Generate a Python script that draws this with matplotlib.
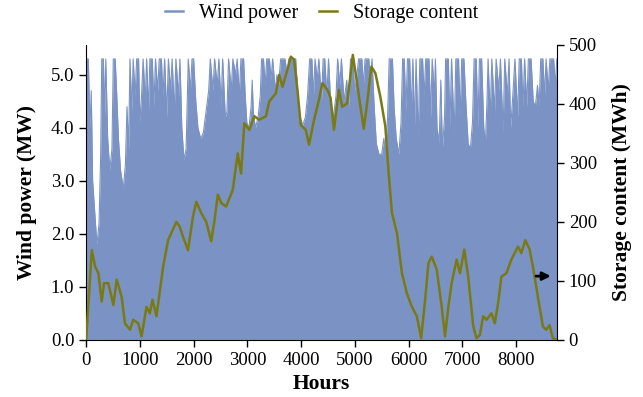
import matplotlib
matplotlib.use('Agg')
import matplotlib.pyplot as plt

plt.rcParams['font.family'] = ['Liberation Serif', 'DejaVu Serif']

# Wind power, upper edge of the hourly trace (hour, MW)
wind_hours = [0, 40, 70, 95, 120, 160, 200, 240, 270, 290, 320, 345, 365, 400, 440, 480, 505,
              540, 570, 600, 640, 690, 730, 760, 790, 815, 850, 875, 910, 940, 975, 1000, 1030,
              1060, 1100, 1125, 1160, 1185, 1230, 1260, 1290, 1330, 1360,
              1400, 1430, 1460, 1500, 1530, 1570, 1600, 1640, 1670, 1720, 1745, 1780, 1820,
              1860, 1900, 1940, 1970, 2000, 2040, 2080, 2130, 2180, 2230, 2280, 2310, 2360,
              2390, 2440, 2470, 2510, 2540, 2590, 2620, 2650, 2700, 2730, 2780, 2810, 2850,
              2880, 2930,
              2960, 2990, 3030, 3070, 3090, 3110, 3150, 3200, 3240, 3265, 3300, 3330, 3360,
              3410, 3440, 3470, 3520, 3550, 3580, 3620, 3700, 3740, 3770, 3900,
              3940, 3980, 4030, 4080, 4120, 4160, 4200, 4230, 4260, 4300, 4330, 4380, 4410,
              4440,
              4480, 4510, 4550, 4600, 4650, 4680, 4720, 4750, 4800, 4850, 4880, 4920, 4960,
              5000, 5040, 5070, 5130, 5160, 5190, 5260, 5290, 5320,
              5360, 5400, 5450, 5500, 5540, 5570, 5610, 5640, 5700, 5730, 5770, 5820, 5860,
              5890, 5920, 5950, 5980,
              6020, 6050, 6080, 6110, 6140, 6180, 6210, 6260, 6290, 6320, 6380, 6410, 6440,
              6480, 6500, 6530, 6570, 6600, 6630, 6670, 6690, 6740, 6770, 6800, 6850, 6880,
              6930, 6960, 6990, 7030, 7070, 7110, 7150, 7190, 7220, 7260, 7290, 7320, 7360,
              7400, 7430, 7460, 7480, 7520, 7550, 7600, 7630, 7680, 7710, 7760, 7790, 7840,
              7870, 7900, 7940, 7980, 8030, 8060, 8100, 8130, 8160, 8200, 8230, 8280, 8320,
              8360, 8400, 8430, 8460, 8500, 8530, 8560, 8600, 8630, 8700, 8730, 8760]
wind_mw = [5.3, 5.3, 4.0, 4.7, 3.0, 2.4, 1.8, 2.2, 3.5, 5.3, 5.3, 4.2, 5.3, 3.8, 3.2, 3.6, 5.3,
           5.3, 4.6, 3.8, 3.2, 2.85, 3.3, 4.4, 3.6, 5.3, 4.3, 5.3, 4.6, 5.3, 5.3, 4.1, 4.6,
           5.3, 4.5, 5.3, 4.3, 5.3, 5.3, 4.4, 5.3, 4.7, 5.3,
           5.3, 4.6, 5.3, 4.2, 5.3, 4.7, 5.3, 4.3, 5.3, 4.6, 5.3, 4.0, 3.4,
           3.6, 5.3, 4.7, 5.3, 5.3, 4.5, 4.0, 3.8, 3.9, 4.3, 4.7, 5.3, 4.7,
           5.3, 4.8, 5.3, 4.4, 5.3, 4.2, 4.3, 5.3, 4.7, 5.3, 5.0, 5.3, 4.6,
           5.3, 5.3,
           4.6, 4.1, 4.0, 4.4, 4.9, 4.3, 4.0, 4.2, 4.6, 5.3, 5.3, 4.8, 5.3,
           5.3, 4.9, 5.3, 4.7, 5.0, 4.8, 5.3, 5.3, 5.0, 5.3, 5.3,
           4.6, 4.2, 4.05, 4.2, 4.6, 5.3, 5.3, 4.6, 5.3, 4.9, 5.3, 4.5, 5.3,
           5.3,
           4.6, 5.3, 4.5, 4.2, 4.6, 5.3, 4.8, 5.3, 4.5, 4.9, 4.3, 5.3, 5.3,
           4.7, 5.0, 5.3, 5.3, 4.8, 5.3, 5.3, 4.9, 5.3,
           4.4, 3.7, 3.5, 3.5, 3.8, 3.5, 4.2, 5.3, 5.3, 4.4, 3.8, 3.5, 4.1,
           5.3, 5.3, 4.3, 5.3,
           5.3, 4.3, 5.3, 4.0, 5.3, 3.8, 5.3, 5.3, 4.6, 5.3, 5.3, 4.2, 5.3,
           4.6, 5.3, 4.0, 3.7, 4.9, 3.6, 4.2, 5.3, 5.3, 4.0, 5.3, 3.9, 5.3,
           5.3, 4.2, 5.3, 5.3, 4.4, 3.7, 3.6, 4.1, 5.3, 5.3, 4.0, 5.3, 5.3,
           4.0, 3.7, 4.5, 5.3, 4.2, 5.3, 4.3, 5.3, 4.7, 5.3, 3.9, 5.3, 4.6,
           5.3, 4.0, 4.6, 5.3, 4.2, 5.3, 5.3, 4.4, 5.3, 4.4, 5.3, 5.3, 4.5,
           4.4, 4.8, 4.4, 5.3, 5.3, 4.6, 5.3, 4.7, 5.3, 5.3, 4.8, 5.3]

# Storage content (hour, MWh)
storage_hours = [0, 105, 167, 228, 290, 333, 413, 506, 568, 660, 722, 815, 876, 969, 1031,
                 1123, 1185, 1235, 1309, 1432, 1525, 1679, 1741, 1802, 1895, 1988, 2050, 2142,
                 2235, 2328, 2389, 2451, 2513, 2605, 2728, 2821, 2883, 2944, 3037, 3130, 3222,
                 3346, 3407, 3531, 3593, 3654, 3747, 3809, 3870, 3932, 3994, 4086, 4148, 4241,
                 4333, 4395, 4488, 4549, 4611, 4704, 4765, 4858, 4963, 5043, 5105, 5167, 5228,
                 5309, 5383, 5475, 5568, 5630, 5691, 5784, 5877, 5969, 6062, 6154, 6235, 6309,
                 6370, 6432, 6525, 6617, 6679, 6741, 6802, 6895, 6957, 7037, 7111, 7204, 7265,
                 7327, 7389, 7451, 7543, 7605, 7667, 7728, 7821, 7914, 8037, 8099, 8173, 8254,
                 8315, 8407, 8500, 8562, 8624, 8685, 8760]
storage_mwh = [0, 152, 124, 113, 65, 96, 96, 59, 102, 73, 28, 17, 34, 28, 6,
               56, 45, 68, 40, 124, 169, 200, 192, 175, 152, 209, 234, 215,
               200, 167, 203, 246, 232, 226, 254, 316, 282, 367, 356, 379, 373,
               379, 404, 418, 449, 429, 458, 480, 475, 424, 364, 356, 331, 373,
               407, 435, 424, 410, 356, 424, 395, 401, 483, 435, 395, 358, 401,
               463, 452, 412, 362, 282, 215, 181, 113, 79, 56, 40, 3, 68,
               130, 141, 119, 56, 6, 56, 96, 136, 113, 153, 107, 23, 3,
               8, 40, 34, 45, 28, 62, 107, 113, 136, 158, 147, 169, 153,
               124, 73, 23, 17, 25, 3, 0]

wind_ticks = [0, 1, 2, 3, 4, 5]
storage_ticks = [0, 100, 200, 300, 400, 500]
hour_ticks = [0, 1000, 2000, 3000, 4000, 5000, 6000, 7000, 8000]

blue = '#7b93c4'
olive = '#7a7a14'

fig, ax = plt.subplots(figsize=(6.43, 3.97), dpi=100)
fig.subplots_adjust(left=0.134, right=0.866, bottom=0.144, top=0.887)

ax.fill_between(wind_hours, wind_mw, color=blue, lw=0)
wind_line, = ax.plot(wind_hours, wind_mw, color=blue, lw=0.8, label='Wind power')
ax.set_xlim(0, 8760)
ax.set_ylim(0, 5.565)
ax.set_xticks(hour_ticks)
ax.set_yticks(wind_ticks)
ax.set_yticklabels([f'{t:.1f}' for t in wind_ticks])
ax.set_xlabel('Hours', fontsize=15.5, fontweight='bold', labelpad=4)
ax.set_ylabel('Wind power (MW)', fontsize=15.5, fontweight='bold', labelpad=10)

ax2 = ax.twinx()
store_line, = ax2.plot(storage_hours, storage_mwh, color=olive, lw=1.8, label='Storage content')
ax2.set_ylim(0, 500)
ax2.set_yticks(storage_ticks)
ax2.set_ylabel('Storage content (MWh)', fontsize=15.5, fontweight='bold', labelpad=11)
ax2.annotate('', xy=(8700, 108), xytext=(8320, 108),
             arrowprops=dict(arrowstyle='-|>', color='black', lw=2, mutation_scale=12))

for a in (ax, ax2):
    a.spines['top'].set_visible(False)
    a.tick_params(direction='out', length=5, width=1, labelsize=13.5, colors='black')
ax.spines['right'].set_visible(False)
ax2.spines['left'].set_visible(False)
ax2.spines['bottom'].set_visible(False)

leg = fig.legend(handles=[wind_line, store_line], loc='upper center',
                 bbox_to_anchor=(0.5, 1.035), ncol=2, frameon=False, fontsize=14.5,
                 handlelength=0.9, handletextpad=0.8, columnspacing=1.0)
for ln in leg.get_lines():
    ln.set_linewidth(1.8)

plt.savefig('out.png', dpi=100)
plt.close()
